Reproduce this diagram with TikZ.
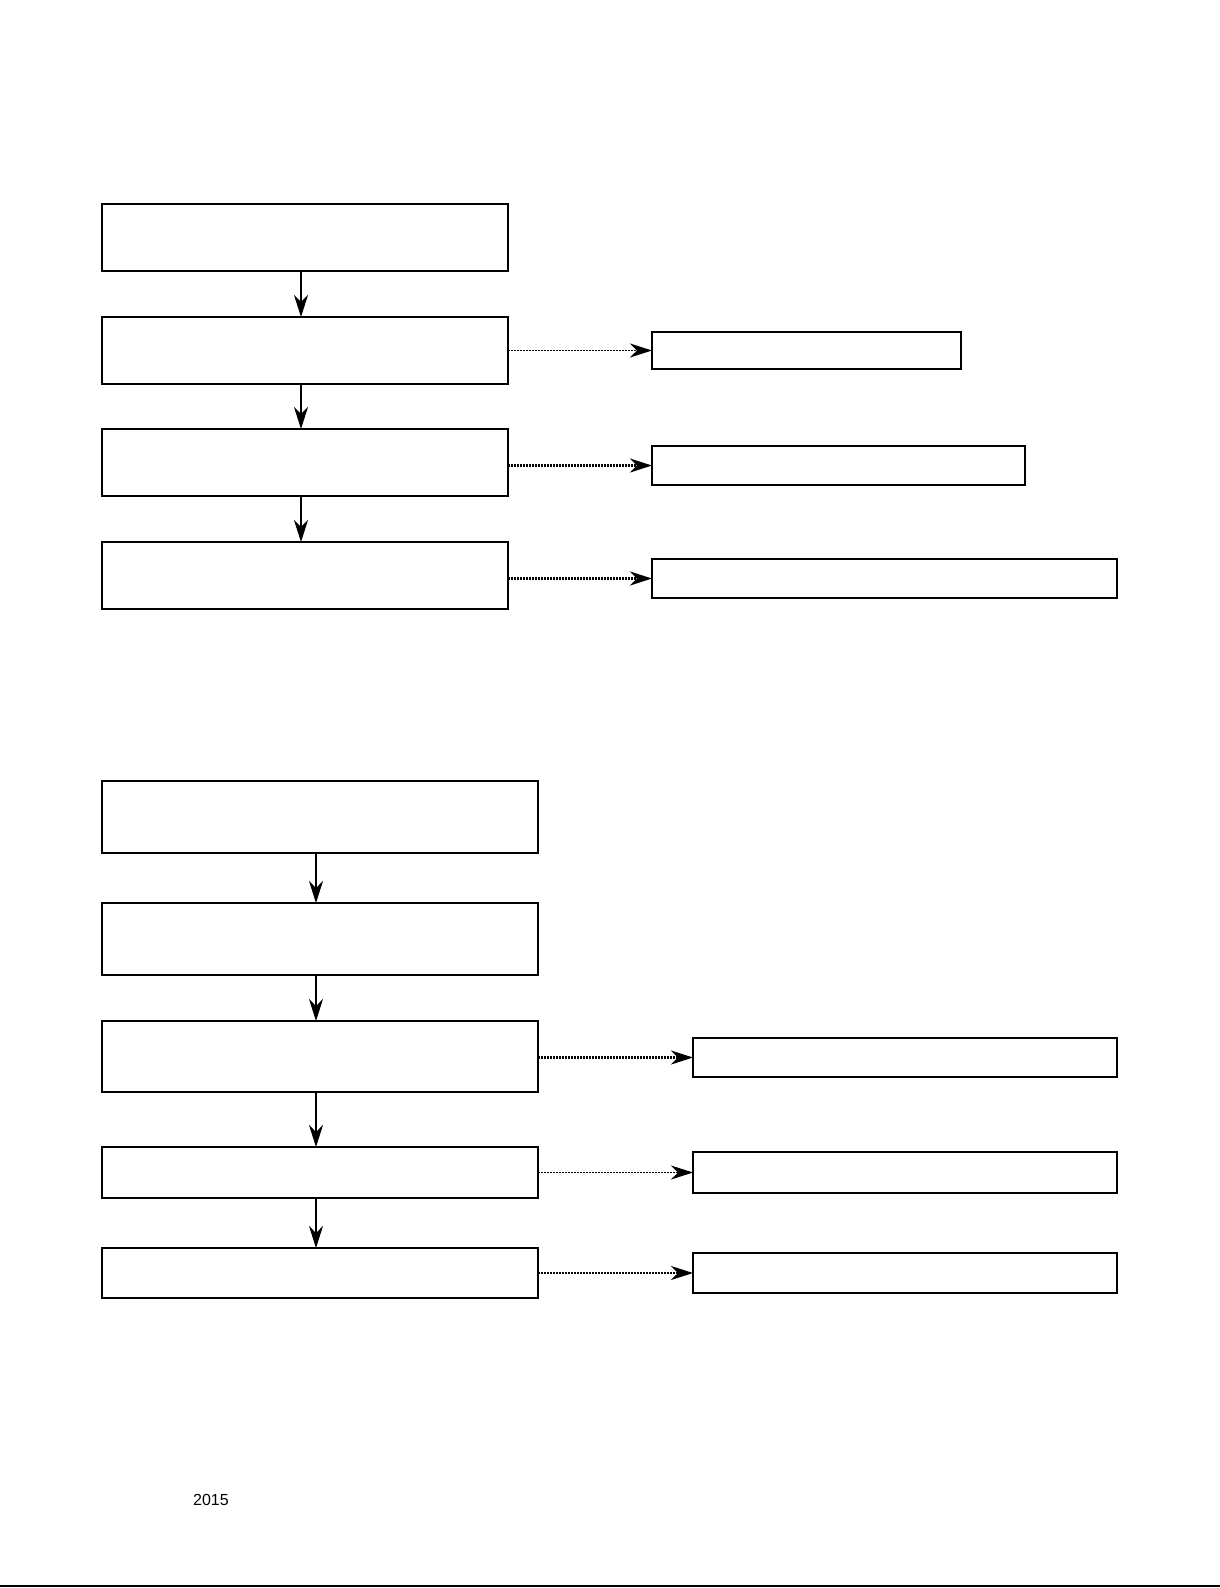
\documentclass[tikz,border=0pt]{standalone}
\usepackage{fontspec}
\setmainfont{Liberation Sans}
\usetikzlibrary{arrows.meta}
\begin{document}
\begin{tikzpicture}[x=1pt,y=-1pt,
  box/.style={draw,line width=2pt,inner sep=0pt,outer sep=0pt,anchor=north west,fill=white},
  tip/.style={-{Stealth[length=22pt,width=14pt,inset=7pt]}},
  vthick/.style={tip,line width=2.4pt},
  vthin/.style={tip,line width=1.3pt},
  dotline/.style={tip,line width=1.3pt,dash pattern=on 2pt off 1pt},
  dotheavy/.style={tip,line width=2.2pt,dash pattern=on 2pt off 1pt}]
\useasboundingbox (0,0) rectangle (1220,1588);
% top section
\node[box,minimum width=406pt,minimum height=67pt] (a1) at (102,204) {};
\node[box,minimum width=406pt,minimum height=67pt] (a2) at (102,317) {};
\node[box,minimum width=406pt,minimum height=67pt] (a3) at (102,429) {};
\node[box,minimum width=406pt,minimum height=67pt] (a4) at (102,542) {};
\node[box,minimum width=309pt,minimum height=37pt] (r1) at (652,332) {};
\node[box,minimum width=373pt,minimum height=39pt] (r2) at (652,446) {};
\node[box,minimum width=465pt,minimum height=39pt] (r3) at (652,559) {};
\draw[vthick] ([xshift=-4pt]a1.south) -- ([xshift=-4pt]a2.north);
\draw[vthick] ([xshift=-4pt]a2.south) -- ([xshift=-4pt]a3.north);
\draw[vthick] ([xshift=-4pt]a3.south) -- ([xshift=-4pt]a4.north);
\draw[dotline] (a2.east |- r1.west) -- (r1.west);
\draw[dotheavy] (a3.east |- r2.west) -- (r2.west);
\draw[dotheavy] (a4.east |- r3.west) -- (r3.west);
% bottom section
\node[box,minimum width=436pt,minimum height=72pt] (b1) at (102,781) {};
\node[box,minimum width=436pt,minimum height=72pt] (b2) at (102,903) {};
\node[box,minimum width=436pt,minimum height=71pt] (b3) at (102,1021) {};
\node[box,minimum width=436pt,minimum height=51pt] (b4) at (102,1147) {};
\node[box,minimum width=436pt,minimum height=50pt] (b5) at (102,1248) {};
\node[box,minimum width=424pt,minimum height=39pt] (s1) at (693,1038) {};
\node[box,minimum width=424pt,minimum height=41pt] (s2) at (693,1152) {};
\node[box,minimum width=424pt,minimum height=40pt] (s3) at (693,1253) {};
\draw[vthin] ([xshift=-4pt]b1.south) -- ([xshift=-4pt]b2.north);
\draw[vthin] ([xshift=-4pt]b2.south) -- ([xshift=-4pt]b3.north);
\draw[vthin] ([xshift=-4pt]b3.south) -- ([xshift=-4pt]b4.north);
\draw[vthin] ([xshift=-4pt]b4.south) -- ([xshift=-4pt]b5.north);
\draw[dotheavy] (b3.east |- s1.west) -- (s1.west);
\draw[dotline] (b4.east |- s2.west) -- (s2.west);
\draw[dotheavy] (b5.east |- s3.west) -- (s3.west);
% footer
\node[anchor=base west,inner sep=0pt,font=\fontsize{16pt}{19pt}\selectfont] (yr) at (193,1505) {2015};
\coordinate (fl) at (0,1586);
\coordinate (fr) at (1220,1586);
\draw[line width=2pt] (fl) -- (fr);
\end{tikzpicture}
\end{document}
